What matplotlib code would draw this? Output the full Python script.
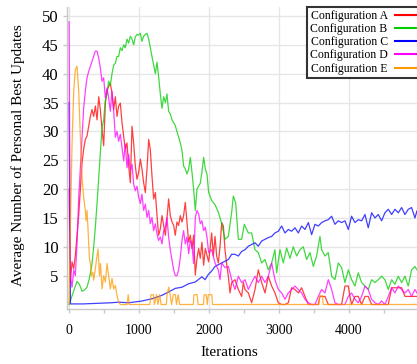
import matplotlib
matplotlib.use("Agg")
import matplotlib.pyplot as plt
from matplotlib.ticker import MultipleLocator

plt.rcParams['font.family'] = ['Liberation Serif', 'DejaVu Serif']

labels = ["Configuration A", "Configuration B", "Configuration C",
          "Configuration D", "Configuration E"]
colors = ["#ff0000", "#00cc00", "#0000ff", "#ff00ff", "#ff9900"]

it_a = [0, 19, 43, 67, 90, 114, 138, 162, 186, 209, 233, 257, 281, 305, 328, 352, 376, 400,
        424, 447, 471, 495, 519, 543, 566, 590, 614, 638, 662, 685, 709, 733, 757, 781, 804,
        828, 852, 876, 900, 923, 947, 971, 995, 1019, 1042, 1066, 1090, 1114, 1138, 1161,
        1185, 1209, 1233, 1257, 1280, 1304, 1328, 1352, 1376, 1399, 1423, 1447, 1471, 1495,
        1518, 1542, 1566, 1590, 1614, 1637, 1661, 1685, 1709, 1733, 1756, 1780, 1804, 1828,
        1852, 1875, 1899, 1923, 1947, 1971, 1994, 2014, 2038, 2062, 2086, 2109, 2133, 2157,
        2181, 2205, 2228, 2252, 2276, 2300, 2324, 2371, 2419, 2466, 2490, 2514, 2562, 2609,
        2657, 2704, 2752, 2800, 2847, 2895, 2942, 2990, 3038, 3085, 3133, 3180, 3228, 3276,
        3323, 3371, 3419, 3561, 3585, 3656, 3704, 3894, 3942, 3990, 4013, 4037, 4085, 4132,
        4180, 4228, 4275, 4323, 4561, 4609, 4752, 4799, 4970]
val_a = [20, 3.9, 7.4, 6.2, 8.5, 12, 15.4, 20, 24.6, 26.9, 28.6, 29.2, 30.9, 32.6, 33.8, 32.6,
         34.4, 32, 36, 33.8, 30.4, 27.5, 34.9, 37.2, 37.8, 38.3, 36.6, 33.8, 36, 32.6, 34.4,
         34.9, 31.5, 29.2, 26.9, 28, 24, 21.1, 30.9, 28, 24, 21.7, 22.9, 25.2, 23.5, 21.1, 19.4,
         23.5, 28.6, 26.9, 22.3, 18.3, 19.4, 15.4, 12, 13.1, 15.4, 13.7, 12, 14.9, 18.3, 15.4,
         14.3, 13.7, 12, 14.3, 13.7, 15.4, 14.3, 15.4, 17.7, 14.3, 10.8, 12, 9.7, 12, 5.1, 8,
         9.7, 8, 10.8, 6.8, 9.7, 8.5, 7.4, 9.5, 12.4, 8.4, 11.8, 8.4, 7.2, 10, 14.2, 13.6, 9.5,
         7, 4.9, 2, 3.8, 4.3, 2.6, 1.4, 3.8, 2.6, 2, 0.3, 2.6, 6, 3.8, 2, 4.9, 3.2, 2, 0.3, 0, 0,
         0.3, 2.9, 2.6, 2, 2.9, 1.4, 0, 0, 1.4, 1.4, 0, 0, 3.2, 3.2, 1.4, 0, 1.4, 1.4, 0, 1.4,
         1.4, 0, 0, 2.9, 2.9, 1.4, 1.4]

it_b = [0, 43, 114, 148, 186, 219, 257, 290, 328, 352, 376, 400, 424, 447, 471, 495, 519, 543,
        566, 590, 614, 638, 662, 685, 709, 733, 757, 781, 804, 828, 852, 876, 900, 923, 947,
        971, 995, 1019, 1042, 1066, 1090, 1114, 1138, 1161, 1185, 1209, 1233, 1257, 1280,
        1304, 1328, 1352, 1376, 1399, 1423, 1447, 1471, 1495, 1518, 1542, 1566, 1590, 1614,
        1637, 1661, 1685, 1709, 1733, 1756, 1780, 1804, 1828, 1852, 1875, 1899, 1923, 1947,
        1971, 1994, 2038, 2086, 2133, 2181, 2228, 2276, 2324, 2347, 2381, 2419, 2466, 2504,
        2562, 2609, 2657, 2704, 2752, 2800, 2847, 2895, 2942, 2966, 3014, 3061, 3109, 3157,
        3204, 3252, 3300, 3347, 3395, 3442, 3490, 3537, 3585, 3609, 3656, 3704, 3752, 3799,
        3847, 3894, 3942, 3990, 4037, 4085, 4132, 4180, 4228, 4275, 4323, 4371, 4418, 4466,
        4513, 4561, 4609, 4656, 4704, 4752, 4799, 4847, 4894, 4942, 4970]
val_b = [0, 1.5, 4, 3.5, 2.3, 2.5, 3, 4.5, 7, 10, 13.4, 17.5, 22, 26.5, 30.6, 32, 35.5, 36.5,
         38.7, 38, 40, 41.5, 41.8, 43, 43, 44.5, 44, 45, 44.5, 46, 45.3, 46.5, 46, 45, 46.4,
         46.8, 46.7, 47, 45.6, 46.5, 46.8, 47, 46, 44.5, 43, 41.5, 40, 42, 39.5, 36.5, 34, 36,
         35, 36.5, 33.5, 33, 32, 31.5, 31, 30, 29, 28, 26.7, 24, 23.5, 22.6, 23.5, 25.5, 23,
         20, 16.3, 20, 20.5, 21, 23, 25.5, 23.5, 22.6, 19.5, 18, 17.3, 16, 14, 11.3, 11.8, 16,
         18.8, 17.6, 11.3, 11.3, 13.9, 12.4, 12.4, 9.5, 9, 7.2, 7.8, 6, 7.2, 9.5, 5.5, 9.5,
         7.2, 9.8, 8, 10, 8.4, 9.5, 10, 7.8, 9, 6.6, 8.4, 11.8, 9.5, 8.4, 9, 4.9, 4.3, 7.2,
         6.4, 3.8, 6, 4.3, 3.2, 5.5, 3.8, 3.2, 2.6, 4.3, 3.8, 4.3, 4.9, 4.3, 2.6, 4.3, 3.5,
         4.9, 3.8, 4.9, 3.2, 6, 6.6, 6]

it_c = [0, 20, 200, 400, 600, 710, 850, 1040, 1185, 1330, 1425, 1520, 1614, 1709, 1804, 1899,
        1943, 1990, 2038, 2086, 2133, 2181, 2228, 2276, 2324, 2371, 2419, 2466, 2514, 2562,
        2609, 2657, 2704, 2752, 2800, 2847, 2895, 2942, 2990, 3038, 3085, 3133, 3180, 3228,
        3276, 3323, 3371, 3419, 3466, 3514, 3561, 3609, 3656, 3704, 3752, 3799, 3847, 3894,
        3942, 3990, 4037, 4085, 4132, 4180, 4228, 4275, 4323, 4371, 4418, 4466, 4513, 4561,
        4609, 4656, 4704, 4752, 4799, 4847, 4894, 4942, 4970]
val_c = [35, 0.1, 0.1, 0.2, 0.3, 0.4, 0.3, 0.6, 1, 1.6, 2.2, 2.8, 3, 3.6, 3.9, 4.8, 4.3, 5.2,
         5.8, 6.6, 6.9, 7.2, 7.5, 7.8, 8.7, 8.7, 8.4, 9.2, 9.5, 10.1, 10.4, 10.7, 10.1, 11,
         11.3, 11.6, 11.8, 12.4, 12.7, 13.6, 12.4, 13, 12.7, 13.3, 12.4, 13.6, 13, 14.2, 12.1,
         13.9, 13.6, 14.2, 14.5, 14.7, 15.3, 13.9, 14.5, 14.2, 14.5, 13, 15.3, 14.2, 14.7,
         14.5, 15.6, 13.3, 15.9, 15, 15.6, 14.5, 15.9, 16.5, 15.6, 16.5, 15.9, 16.8, 15.6,
         16.5, 16.8, 15, 16.2]

it_d = [0, 19, 43, 67, 90, 114, 138, 162, 186, 209, 233, 257, 281, 305, 328, 352, 376, 400,
        424, 447, 471, 495, 519, 543, 566, 590, 614, 638, 662, 685, 709, 733, 757, 781, 804,
        828, 852, 876, 900, 923, 947, 971, 995, 1019, 1042, 1066, 1090, 1114, 1138, 1161,
        1185, 1209, 1233, 1257, 1280, 1304, 1328, 1352, 1376, 1399, 1423, 1447, 1471, 1495,
        1518, 1542, 1566, 1590, 1614, 1637, 1661, 1685, 1709, 1733, 1756, 1780, 1804, 1828,
        1852, 1875, 1899, 1923, 1947, 1971, 1994, 2038, 2086, 2133, 2157, 2181, 2228, 2276,
        2324, 2371, 2419, 2466, 2514, 2562, 2609, 2657, 2704, 2752, 2800, 2847, 2895, 2942,
        2990, 3038, 3085, 3133, 3180, 3228, 3276, 3323, 3371, 3419, 3466, 3514, 3561, 3609,
        3656, 3704, 3752, 3799, 3847, 3942, 3990, 4037, 4085, 4132, 4180, 4228, 4275, 4323,
        4371, 4418, 4466, 4513, 4561, 4609, 4656, 4704, 4752, 4799, 4847, 4894, 4942, 4970]
val_d = [49, 5, 3, 6, 5, 10.5, 18.5, 23.7, 29, 34, 37, 39.3, 40.4, 41.3, 42.1, 43, 43.9, 43.9,
         42.7, 41, 38.7, 39.3, 35.8, 37.5, 35.8, 33.5, 37, 33.5, 29, 30, 28.3, 29.5, 27.2,
         24.9, 27.8, 23.7, 26, 23.2, 24.3, 20.9, 19.7, 20.5, 18.6, 17.5, 19.1, 16.3, 17.4,
         15.1, 16.3, 14, 15.1, 12.8, 14, 12.2, 11.1, 11.7, 10.5, 12.8, 13.4, 15.1, 11.7, 9.4,
         7.7, 6, 5, 5, 6, 8.2, 11.1, 12.8, 10.5, 11.7, 8.8, 11.1, 10.5, 7.1, 15.1, 16.3, 15.7,
         14, 14.5, 12.8, 13.4, 11.7, 9, 9.5, 7.2, 6, 4.3, 7.2, 6.4, 6.6, 4.3, 2.6, 4.9, 3.8,
         4.3, 2.6, 3.8, 4.9, 3.8, 4.9, 3.8, 4.9, 7.2, 4.3, 2.6, 2, 0.9, 2, 2.6, 3.2, 2.6, 2,
         0.9, 0.3, 0, 0, 1.4, 2.6, 2, 4.3, 2.6, 0.3, 0, 0, 1.4, 2, 0.9, 0.3, 1.4, 3.2, 2.6,
         0.9, 0.3, 0, 0.6, 0, 1.4, 2.9, 2, 3.2, 2.6, 2, 2.6, 1.4, 2.6, 2]

it_e = [0, 19, 43, 67, 90, 114, 138, 162, 186, 209, 233, 245, 257, 270, 290, 305, 320, 340,
        352, 376, 400, 415, 435, 450, 471, 495, 519, 543, 566, 590, 614, 638, 662, 685, 709,
        733, 830, 845, 860, 1155, 1170, 1205, 1220, 1250, 1270, 1295, 1315, 1390, 1400, 1425,
        1445, 1465, 1490, 1520, 1535, 1560, 1580, 1775, 1785, 1830, 1845, 1920, 1930, 1960,
        1975, 1990, 2040, 2050, 3570, 3580, 3620, 3630, 4970]
val_e = [0, 13.4, 27.8, 37, 40.7, 41.3, 37, 29, 22, 18.6, 16.3, 14.5, 16.3, 13.4, 8.2, 7.1, 5,
         5.6, 4.2, 6.2, 8.5, 9.6, 5, 7.1, 2.7, 5, 3.9, 7.1, 5, 2.7, 4.5, 2.7, 3.3, 1.6, 0.4, 0,
         0, 1.7, 0, 0, 1.7, 1.7, 0, 1.7, 0, 1.7, 0, 0, 1.7, 3, 1.7, 0, 1.7, 1.7, 0, 1.7, 0, 0,
         1.7, 1.7, 0, 0, 1.7, 1.7, 0, 1.7, 1.7, 0, 0, 1.5, 1.5, 0, 0]

x_ticks = [0, 1000, 2000, 3000, 4000]
y_ticks = [5, 10, 15, 20, 25, 30, 35, 40, 45, 50]

fig = plt.figure(figsize=(4.17, 3.64), dpi=100)
ax = fig.add_axes([67 / 417, 55 / 364, 352 / 417, 302 / 364])

series = [(it_a, val_a), (it_b, val_b), (it_c, val_c), (it_d, val_d), (it_e, val_e)]
for (xs, ys), lab, col in zip(series, labels, colors):
    ax.plot(xs, ys, color=col, lw=0.9, alpha=0.75, label=lab)

ax.set_xlim(-29, 5000)
ax.set_ylim(-0.78, 51.56)
ax.set_xticks(x_ticks)
ax.set_yticks(y_ticks)
ax.xaxis.set_minor_locator(MultipleLocator(500))
ax.grid(True, which='major', color='#e6e6e6', lw=1)
ax.set_axisbelow(True)
for s in ['top', 'right']:
    ax.spines[s].set_visible(False)
for s in ['left', 'bottom']:
    ax.spines[s].set_color('#c8c8c8')
    ax.spines[s].set_linewidth(1)
ax.tick_params(axis='both', which='both', color='#c8c8c8', length=3, width=1)
ax.tick_params(axis='y', labelsize=12, pad=3)
ax.tick_params(axis='x', labelsize=10, pad=8)

fig.text(229 / 417, 1 - 353 / 364, "Iterations", ha='center', va='center', fontsize=11)
fig.text(18 / 417, 1 - 155 / 364, "Average Number of Personal Best Updates",
         ha='center', va='center', rotation=90, fontsize=11)

leg = ax.legend(loc='upper right', bbox_to_anchor=(1.0, 1.0), markerfirst=False,
                fontsize=8.5, frameon=True, fancybox=False, handlelength=1.8,
                borderpad=0.25, labelspacing=0.1, handletextpad=0.6, borderaxespad=0)
leg.get_frame().set_edgecolor('black')
leg.get_frame().set_linewidth(1.5)
for h in leg.get_lines():
    h.set_alpha(1)
    h.set_linewidth(1.5)

fig.savefig("out.png", dpi=100)
